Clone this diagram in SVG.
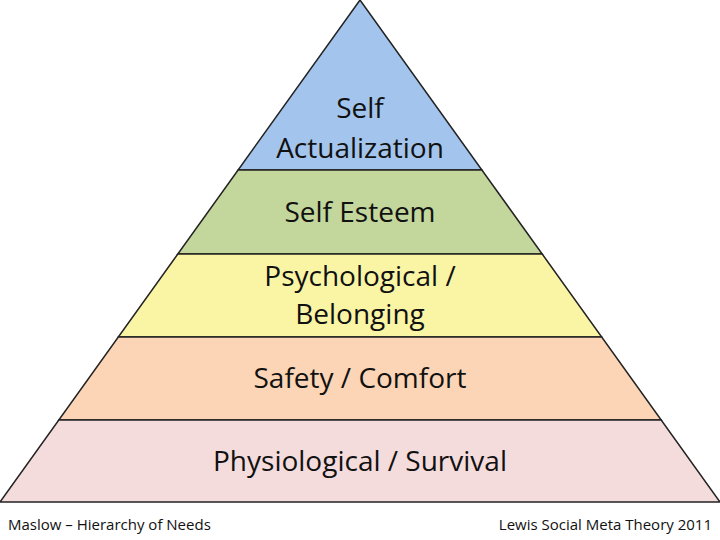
<svg xmlns="http://www.w3.org/2000/svg" width="720" height="540" viewBox="0 0 720 540">
<style>
.b{stroke:#222;stroke-width:1.5}
.t{font-family:"Open Sans","Liberation Sans",sans-serif;font-size:28px;fill:#111;text-anchor:middle}
.f{font-family:"Open Sans","Liberation Sans",sans-serif;font-size:15px;fill:#111}
</style>
<rect width="720" height="540" fill="#fff"/>
<g id="self-actualization"><polygon class="b" fill="#a3c4ec" points="360,0 238.1,170 481.9,170"/><text class="t" x="360" y="118">Self</text><text class="t" x="360" y="158">Actualization</text></g>
<g id="self-esteem"><polygon class="b" fill="#c3d69b" points="238.1,170 481.9,170 542.2,254 177.8,254"/><text class="t" x="360" y="222">Self Esteem</text></g>
<g id="psychological"><polygon class="b" fill="#faf5a5" points="177.8,254 542.2,254 601.7,337 118.3,337"/><text class="t" x="360" y="286">Psychological /</text><text class="t" x="360" y="324">Belonging</text></g>
<g id="safety"><polygon class="b" fill="#fbd5b5" points="118.3,337 601.7,337 661.2,420 58.8,420"/><text class="t" x="360" y="388">Safety / Comfort</text></g>
<g id="physiological"><polygon class="b" fill="#f5dcdc" points="58.8,420 661.2,420 720,502 0,502"/><text class="t" x="360" y="471">Physiological / Survival</text></g>
<g id="connectors"/>
<text class="f" x="8" y="530">Maslow – Hierarchy of Needs</text>
<text class="f" x="712" y="530" text-anchor="end">Lewis Social Meta Theory 2011</text>
</svg>
